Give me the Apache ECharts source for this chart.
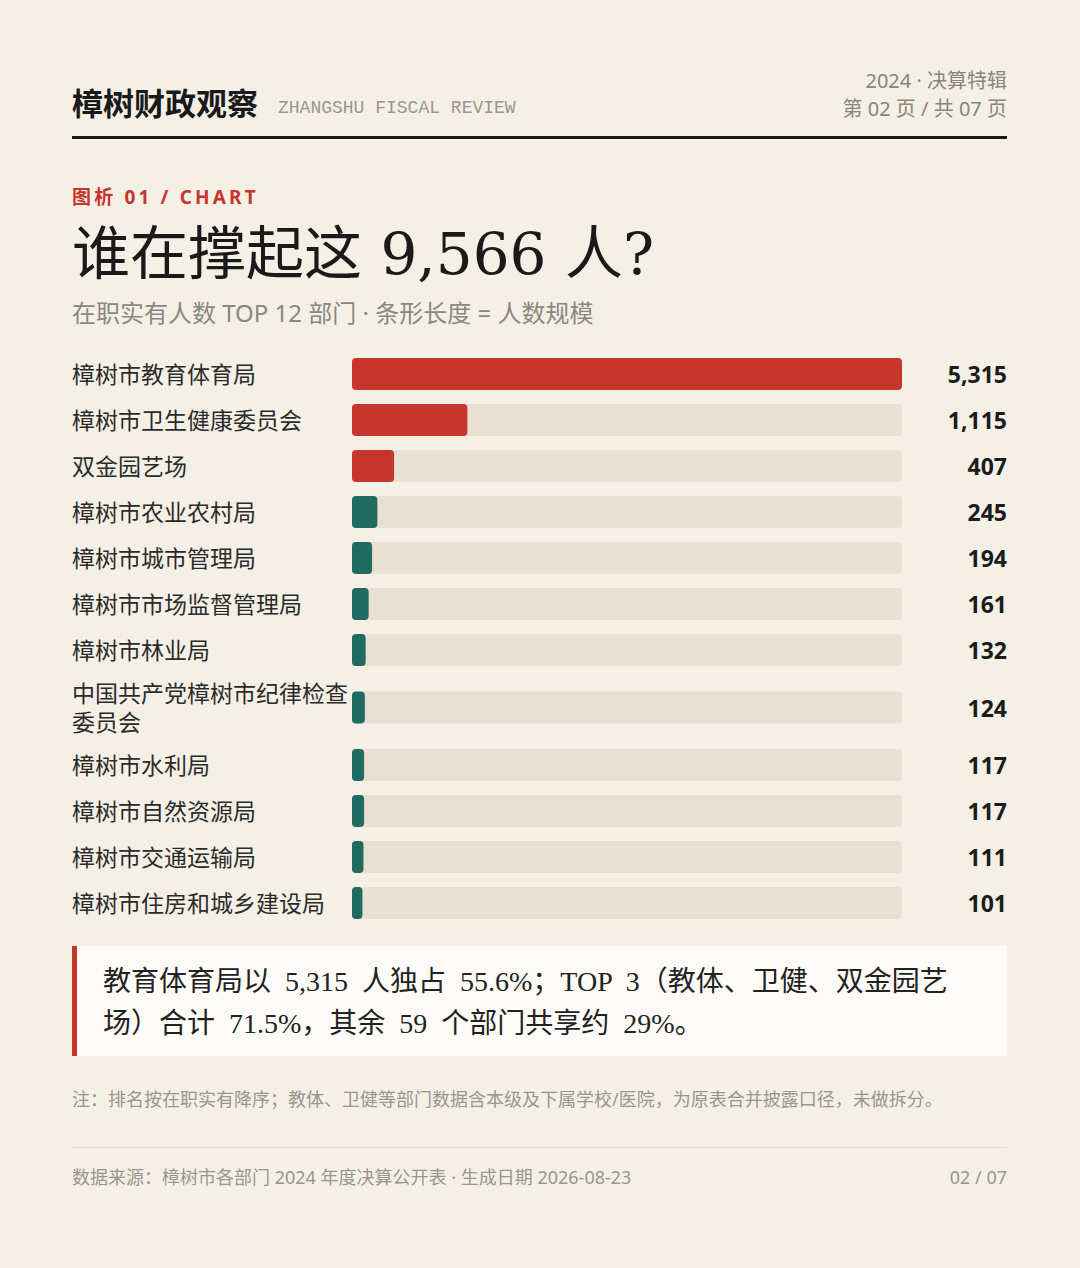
<!DOCTYPE html>
<html>
<head>
<meta charset="utf-8">
<script src="https://cdn.jsdelivr.net/npm/echarts@6/dist/echarts.min.js"></script>
<style>
  html, body { margin: 0; padding: 0; background: #f5f0e6; }
  #chart { width: 1080px; height: 1268px; }
</style>
</head>
<body>
<div id="chart"></div>
<script>
  // 在职实有人数 TOP 12
  var depts = [
    '樟树市教育体育局', '樟树市卫生健康委员会', '双金园艺场', '樟树市农业农村局',
    '樟树市城市管理局', '樟树市市场监督管理局', '樟树市林业局', '中国共产党樟树市纪律检查委员会',
    '樟树市水利局', '樟树市自然资源局', '樟树市交通运输局', '樟树市住房和城乡建设局'
  ];
  var staff = [5315, 1115, 407, 245, 194, 161, 132, 124, 117, 117, 111, 101];
  var highlightCount = 3;

  var RED = '#c8352b';
  var TEAL = '#1f6b5f';
  var TRACK = '#e8e1d3';
  var SANS = '"Noto Sans", "Noto Sans CJK SC", sans-serif';
  var SERIF = '"DejaVu Serif", "Noto Sans CJK SC", serif';
  var CALLOUT = '28px "Liberation Serif", "Noto Sans CJK SC", serif';

  // row groups: [from, to, top, height] — the two-line label row is taller
  var layout = [[0, 7, 351, 322], [7, 8, 673, 69], [8, 12, 742, 184]];

  var fmt = function(v) { return v.toLocaleString('en-US'); };
  var spaced = function(s) { return s.split('').join('\u2009'); };

  var grids = [], xAxes = [], yAxes = [], series = [];
  layout.forEach(function(g, i) {
    var names = depts.slice(g[0], g[1]);
    var vals = staff.slice(g[0], g[1]);
    grids.push({ left: 352, right: 178, top: g[2], height: g[3] });
    xAxes.push({
      gridIndex: i, type: 'value', min: 0, max: staff[0],
      show: false
    });
    yAxes.push({
      gridIndex: i, type: 'category', inverse: true, data: names,
      axisLine: { show: false }, axisTick: { show: false },
      axisLabel: {
        align: 'left', margin: 280, width: 280, overflow: 'break',
        fontFamily: SANS, fontSize: 23, lineHeight: 29, color: '#2b2b2b'
      }
    });
    yAxes.push({
      gridIndex: i, type: 'category', inverse: true, position: 'right',
      data: vals.map(fmt),
      axisLine: { show: false }, axisTick: { show: false },
      axisLabel: {
        align: 'right', margin: 105,
        fontFamily: '"Noto Sans", sans-serif', fontWeight: 'bold', fontSize: 23, color: '#1c1c1c'
      }
    });
    series.push({
      type: 'bar', xAxisIndex: i, yAxisIndex: i * 2,
      barWidth: 32,
      showBackground: true,
      backgroundStyle: { color: TRACK, borderRadius: 4 },
      itemStyle: { borderRadius: 4 },
      silent: true,
      data: vals.map(function(v, k) {
        return { value: v, itemStyle: { color: (g[0] + k) < highlightCount ? RED : TEAL } };
      })
    });
  });

  var txt = function(x, y, text, font, fill, align) {
    return {
      type: 'text', silent: true,
      style: { x: x, y: y, text: text, font: font, fill: fill, align: align || 'left', verticalAlign: 'middle' }
    };
  };

  var graphic = [
    txt(72, 104, '樟树财政观察', 'bold 31px ' + SERIF, '#1a1a1a'),
    txt(278, 108, 'ZHANGSHU FISCAL REVIEW', '18px "Liberation Mono", monospace', '#9a958d'),
    txt(1007, 80, '2024 · 决算特辑', '20px ' + SANS, '#8a847b', 'right'),
    txt(1007, 108, '第 02 页 / 共 07 页', '20px ' + SANS, '#8a847b', 'right'),
    { type: 'rect', silent: true, shape: { x: 72, y: 136, width: 935, height: 3 }, style: { fill: '#1a1a1a' } },
    txt(72, 197, spaced('图析 01 / CHART'), 'bold 19px ' + SANS, RED),
    txt(72, 254, '谁在撑起这 9,566 人?', '58px ' + SERIF, '#1a1a1a'),
    txt(72, 312, '在职实有人数 TOP 12 部门 · 条形长度 = 人数规模', '24px ' + SANS, '#8c877f'),
    { type: 'rect', silent: true, shape: { x: 72, y: 946, width: 935, height: 110 }, style: { fill: '#fdfbf7' } },
    { type: 'rect', silent: true, shape: { x: 72, y: 946, width: 5, height: 110 }, style: { fill: RED } },
    txt(103, 981, '教育体育局以  5,315  人独占  55.6%；TOP  3（教体、卫健、双金园艺', CALLOUT, '#222'),
    txt(103, 1023, '场）合计  71.5%，其余  59  个部门共享约  29%。', CALLOUT, '#222'),
    txt(72, 1099, '注：排名按在职实有降序；教体、卫健等部门数据含本级及下属学校/医院，为原表合并披露口径，未做拆分。', '18px ' + SANS, '#9a958d'),
    { type: 'rect', silent: true, shape: { x: 72, y: 1147, width: 935, height: 1 }, style: { fill: '#e2dcd0' } },
    txt(72, 1177, '数据来源：樟树市各部门 2024 年度决算公开表 · 生成日期 2026-08-23', '18px ' + SANS, '#9a958d'),
    txt(1007, 1177, '02 / 07', '18px ' + SANS, '#9a958d', 'right')
  ];

  var chart = echarts.init(document.getElementById('chart'), null, { renderer: 'svg' });
  chart.setOption({
    backgroundColor: '#f5f0e6',
    animation: false,
    grid: grids,
    xAxis: xAxes,
    yAxis: yAxes,
    series: series,
    graphic: graphic
  });
</script>
</body>
</html>
